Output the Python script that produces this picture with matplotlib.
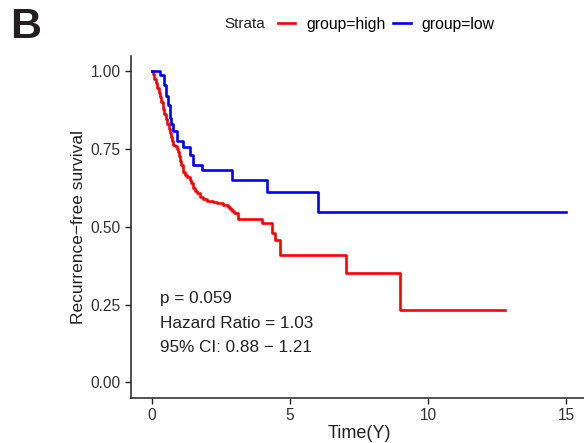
import numpy as np
import matplotlib
matplotlib.use("Agg")
import matplotlib.pyplot as plt

plt.rcParams['font.family'] = ['Liberation Sans', 'DejaVu Sans']

# Kaplan-Meier steps: time of each drop and survival after it
high_t = [0.05, 0.1, 0.14, 0.2, 0.25, 0.29, 0.34, 0.4, 0.45, 0.51, 0.56, 0.62,
          0.66, 0.69, 0.73, 0.76, 0.84, 0.91, 0.95, 0.98, 1.02, 1.05, 1.12, 1.2,
          1.27, 1.38, 1.43, 1.49, 1.56, 1.63, 1.74, 1.85, 1.99, 2.2, 2.36, 2.57,
          2.75, 2.83, 2.9, 2.97, 3.12, 3.99, 4.35, 4.46, 4.64, 7.03, 8.99]
high_s = [0.99, 0.975, 0.962, 0.945, 0.93, 0.918, 0.9, 0.878, 0.862, 0.845, 0.83, 0.813,
          0.80, 0.788, 0.775, 0.764, 0.758, 0.75, 0.74, 0.728, 0.712, 0.698, 0.676, 0.667,
          0.659, 0.65, 0.64, 0.625, 0.615, 0.607, 0.596, 0.588, 0.582, 0.578, 0.575, 0.571,
          0.565, 0.557, 0.55, 0.543, 0.524, 0.511, 0.479, 0.457, 0.408, 0.351, 0.234]
high_end = 12.79

low_t = [0.3, 0.43, 0.5, 0.58, 0.65, 0.68, 0.76, 0.91, 1.12, 1.38, 1.49, 1.81,
         2.9, 4.17, 6.01]
low_s = [0.987, 0.955, 0.92, 0.89, 0.85, 0.83, 0.807, 0.775, 0.756, 0.73, 0.70, 0.682,
         0.65, 0.611, 0.547]
low_end = 15.0

p_value = 0.059
hr = 1.03
ci = (0.88, 1.21)


def km_xy(t, s, end):
    x = [0] + list(t) + [end]
    y = [1.0] + list(s) + [s[-1]]
    return x, y


fig = plt.figure(figsize=(5.84, 4.43), dpi=100)
ax = fig.add_axes([0.2243, 0.1016, 0.781, 0.773])

x, y = km_xy(high_t, high_s, high_end)
l1, = ax.step(x, y, where='post', color='#FF0000', lw=1.9, label='group=high')
x, y = km_xy(low_t, low_s, low_end)
l2, = ax.step(x, y, where='post', color='#0000FF', lw=1.9, label='group=low')

ax.set_xlim(-0.75, 15.75)
ax.set_ylim(-0.05, 1.05)
ax.set_xticks([0, 5, 10, 15])
ax.set_yticks([0, 0.25, 0.5, 0.75, 1.0])
ax.set_yticklabels(['0.00', '0.25', '0.50', '0.75', '1.00'])
for sp in ['top', 'right']:
    ax.spines[sp].set_visible(False)
for sp in ['left', 'bottom']:
    ax.spines[sp].set_linewidth(1.1)
    ax.spines[sp].set_color('#222222')
ax.tick_params(direction='out', length=4, width=1, colors='#222222',
               labelsize=11.2, labelcolor='#333333')
ax.set_xlabel('Time(Y)', fontsize=13, color='#222222', labelpad=1)
ax.set_ylabel('Recurrence\u2212free survival', fontsize=12.5, color='#222222', labelpad=3)

txt = 'p = %.3f\nHazard Ratio = %.2f\n95%% CI: %.2f \u2212 %.2f' % (p_value, hr, ci[0], ci[1])
ax.text(0.29, 0.293, txt, fontsize=12.3, color='#222222', va='top', ha='left',
        linespacing=1.78)

fig.text(0.385, 0.945, 'Strata', fontsize=11, color='#222222', va='center', ha='left')
fig.legend(handles=[l1, l2], ncol=2, loc='center left', bbox_to_anchor=(0.476, 0.945),
           frameon=False, fontsize=11.3, handlelength=1.1, handletextpad=0.7,
           columnspacing=0.5, borderaxespad=0, borderpad=0)

fig.text(0.017, 0.94, 'B', fontsize=31, fontweight='bold', color='#231F20',
         va='center', ha='left')

fig.savefig('out.png', dpi=100)
